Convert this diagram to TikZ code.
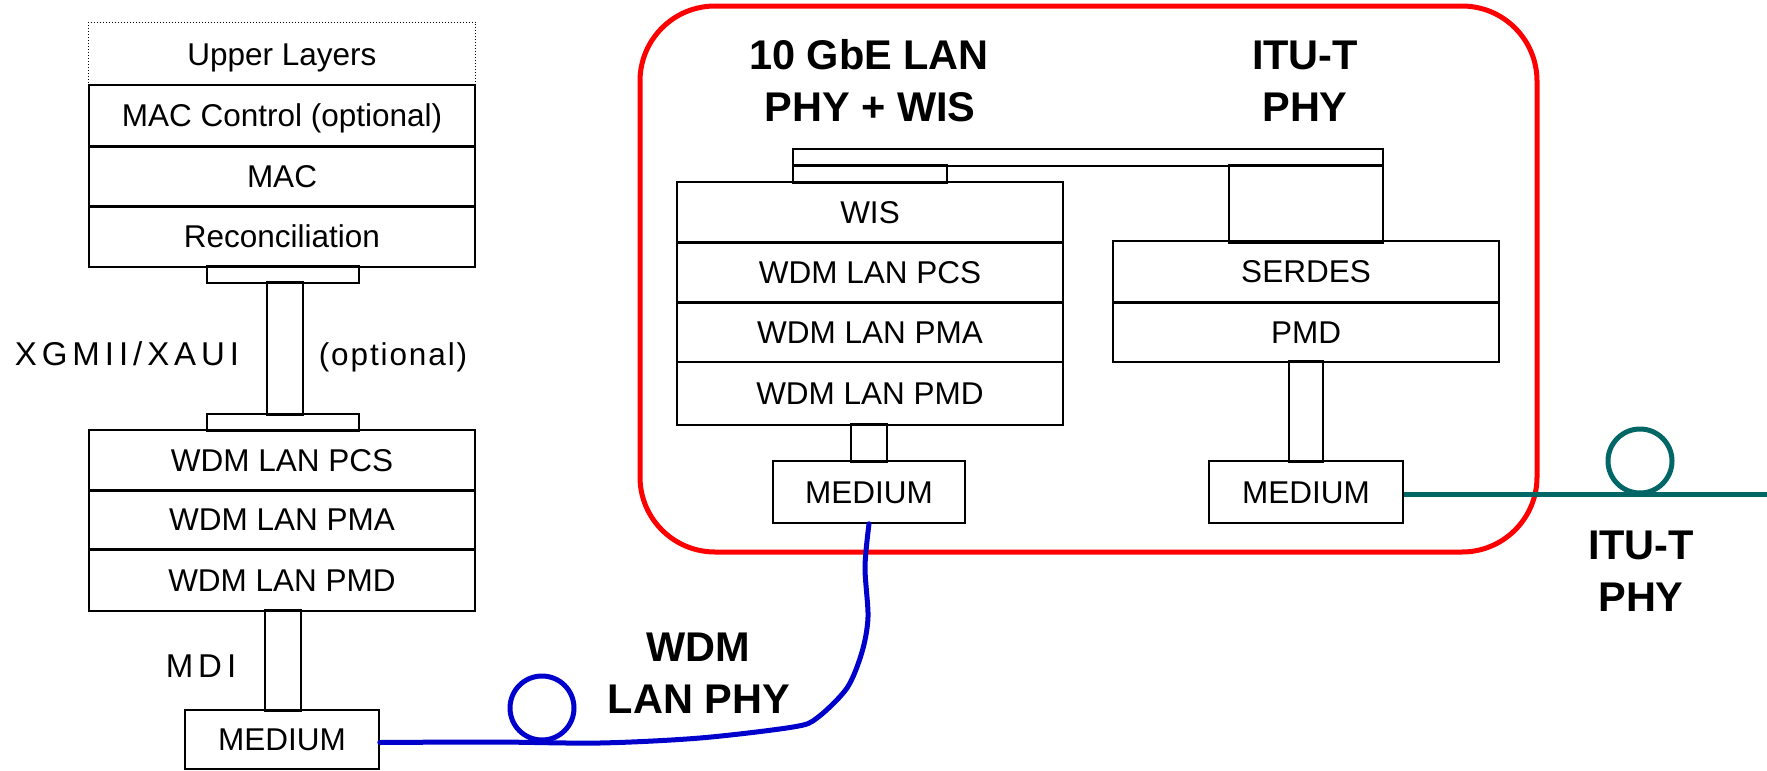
\documentclass[tikz,border=0pt]{standalone}
\usepackage{fontspec}
\setmainfont{Liberation Sans}
\newfontfamily\spacedwide[LetterSpace=15]{Liberation Sans}
\newfontfamily\spacedmdi[LetterSpace=15]{Liberation Sans}
\newfontfamily\spacednarrow[LetterSpace=6]{Liberation Sans}
\definecolor{fiberblue}{RGB}{0,0,204}
\definecolor{fiberteal}{RGB}{0,102,102}
\definecolor{phyred}{RGB}{255,0,0}
\newcommand\thickends[1]{\draw[line width=3pt] (#1.north west) -- (#1.north east) (#1.south west) -- (#1.south east);}
\newcommand\thickbottom[1]{\draw[line width=3pt] (#1.south west) -- (#1.south east);}
\newcommand\thicktop[1]{\draw[line width=3pt] (#1.north west) -- (#1.north east);}
\begin{document}
\begin{tikzpicture}[x=1pt,y=-1pt,
  lay/.style={draw, line width=1.5pt, inner sep=0pt, minimum width=386pt,
    font=\fontsize{31.5}{36}\selectfont, text height=22.5pt, text depth=0pt},
  plate/.style={draw, line width=1.5pt, inner sep=0pt, minimum width=152pt, minimum height=16pt},
  bar/.style={draw, line width=1.5pt, inner sep=0pt, minimum width=36pt},
  head/.style={font=\fontsize{41.5}{50}\selectfont\bfseries, inner sep=0pt, anchor=base},
  lbl/.style={inner sep=0pt, anchor=base},
  fiber/.style={line width=5pt, line cap=round, line join=round}]
\useasboundingbox (0,0) rectangle (1767,771);

% ---- left stack ----
\node[lay, draw=none, minimum height=62pt] (upper) at (282,54) {Upper Layers};
\draw[line width=1.2pt, dash pattern=on 1.2pt off 1.8pt] (upper.south west) -- (upper.north west) -- (upper.north east) -- (upper.south east);
\node[lay, minimum height=61pt] (macctl) at (282,115.5) {MAC Control (optional)};
\node[lay, minimum height=60pt] (mac) at (282,176) {MAC};
\node[lay, minimum height=61pt] (recon) at (282,236.5) {Reconciliation};
\thickbottom{macctl}
\thickbottom{mac}
\node[plate] (pl1) at (283,275) {};
\thicktop{pl1}
\node[bar, minimum height=131pt] (bar1) at (285,348.5) {};
\thickends{bar1}
\node[plate] (pl2) at (283,422) {};
\thickbottom{pl2}
\node[lay, minimum height=60pt] (lpcs) at (282,460) {WDM LAN PCS};
\node[lay, minimum height=59pt] (lpma) at (282,519.5) {WDM LAN PMA};
\node[lay, minimum height=62pt] (lpmd) at (282,580) {WDM LAN PMD};
\thickbottom{lpcs}
\thickbottom{lpma}
\node[bar, minimum height=99pt] (mdi) at (283,660.5) {};
\thickends{mdi}
\node[lay, minimum width=194pt, minimum height=59pt] (med1) at (282,739.5) {MEDIUM};

\node[lbl, font=\fontsize{33}{38}\selectfont\spacedwide] (xgmii) at (127,365) {XGMII/XAUI};
\node[lbl, font=\fontsize{31.5}{36}\selectfont\spacednarrow] (opt) at (393,365) {(optional)};
\node[lbl, font=\fontsize{33}{38}\selectfont\spacedmdi] (mdilbl) at (201,677) {MDI};

% ---- PHY frame ----
\node[draw=phyred, line width=5pt, rounded corners=75pt, inner sep=0pt,
      minimum width=897pt, minimum height=546pt] (phybox) at (1088.5,279) {};

\node[head] (h1a) at (869,69) {10 GbE LAN};
\node[head] (h1b) at (870,121) {PHY + WIS};
\node[head] (h2a) at (1305,69) {ITU-T};
\node[head] (h2b) at (1305,121) {PHY};

% ---- WIS stack ----
\node[plate, minimum width=590pt, minimum height=17pt] (lbus) at (1088,157.5) {};
\node[plate, minimum width=154pt] (wpl) at (870,174) {};
\thickends{wpl}
\node[lay, minimum height=60pt] (wis) at (870,212) {WIS};
\node[lay, minimum height=60pt] (wpcs) at (870,272) {WDM LAN PCS};
\node[lay, minimum height=60pt] (wpma) at (870,332) {WDM LAN PMA};
\node[lay, minimum height=63pt] (wpmd) at (870,393.5) {WDM LAN PMD};
\thickbottom{wis}
\thickbottom{wpcs}
\node[bar, minimum height=36pt] (wcon) at (869,443) {};
\thickends{wcon}
\node[lay, minimum width=192pt, minimum height=62pt] (med2) at (869,492) {MEDIUM};

% ---- ITU-T stack ----
\node[plate, minimum width=154pt, minimum height=76pt] (tall) at (1306,204) {};
\thickends{tall}
\node[lay, minimum height=61pt] (serdes) at (1306,271.5) {SERDES};
\node[lay, minimum height=60pt] (rpmd) at (1306,332) {PMD};
\thickbottom{serdes}
\node[bar, minimum width=34pt, minimum height=99pt] (rcon) at (1306,411.5) {};
\thickends{rcon}
\node[lay, minimum width=194pt, minimum height=62pt] (med3) at (1306,492) {MEDIUM};

% ---- fibres ----
\draw[fiber, fiberblue] plot[smooth, tension=0.5] coordinates {([yshift=-3pt]med1.east) (495,742) (600,743) (700,738) (793,727) (817,718) (847,688) (862,652) (868,617) (865,567) (med2.south)};
\draw[fiber, fiberblue] (542,708) circle[radius=32pt];

\coordinate (tealend) at (1767,494);
\draw[fiber, fiberteal, line cap=butt] ([yshift=-2pt]med3.east) -- (tealend);
\draw[fiber, fiberteal] (1640,461) circle[radius=32pt];

\node[head] (wdm1) at (698,661) {WDM};
\node[head] (wdm2) at (699,713) {LAN PHY};
\node[head] (itu1) at (1641,559) {ITU-T};
\node[head] (itu2) at (1641,611) {PHY};
\end{tikzpicture}
\end{document}
